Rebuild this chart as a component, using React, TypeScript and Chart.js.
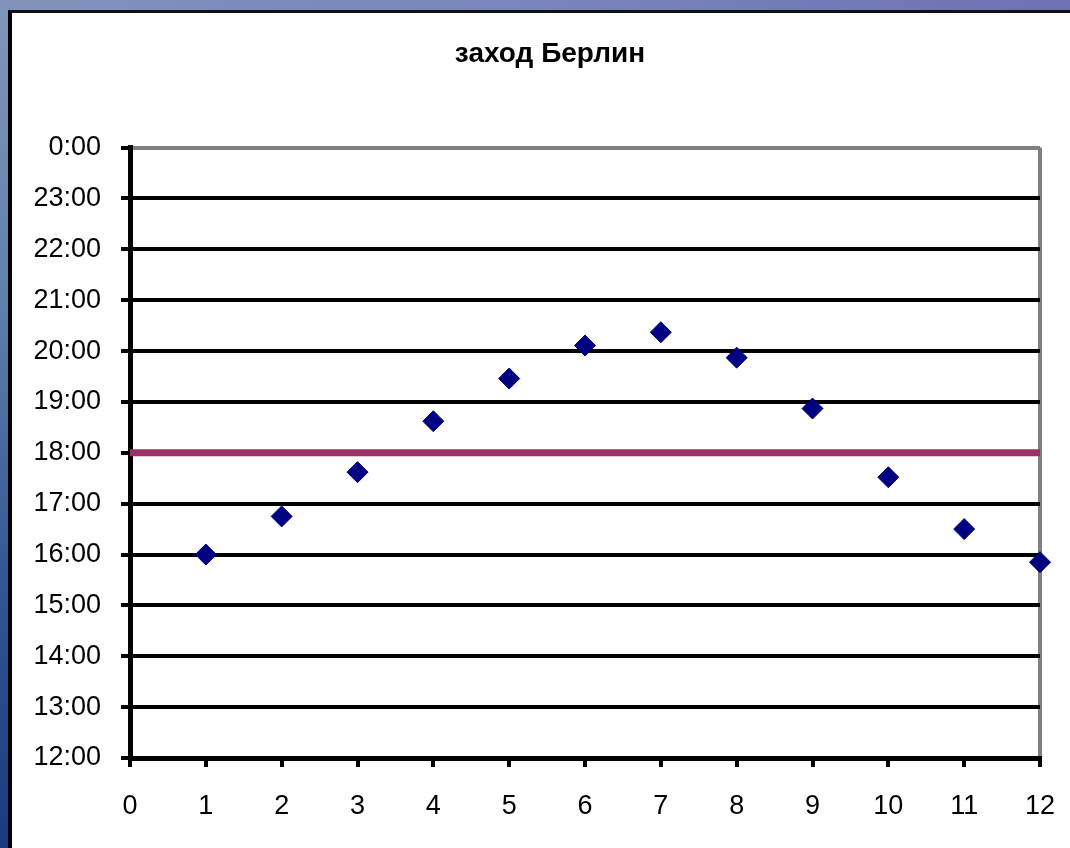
import React, { useEffect, useRef } from 'react';
import { Chart, registerables } from 'chart.js';

Chart.register(...registerables);

const chartTitle = 'заход Берлин';
const months = [1, 2, 3, 4, 5, 6, 7, 8, 9, 10, 11, 12];
const sunsetHours = [16.0, 16.75, 17.62, 18.62, 19.46, 20.11, 20.37, 19.87, 18.87, 17.52, 16.5, 15.85];
const referenceX = [0, 12];
const referenceHour = [18, 18];
const xRange = [0, 12];
const yRange = [12, 24];

const FONT = "'Liberation Sans', Arial, sans-serif";

export default function App() {
  const ref = useRef<HTMLCanvasElement | null>(null);

  useEffect(() => {
    if (!ref.current) return;
    const chart = new Chart(ref.current, {
      type: 'scatter',
      data: {
        datasets: [
          {
            type: 'line',
            label: '18:00',
            data: referenceX.map((x, i) => ({ x, y: referenceHour[i] })),
            borderColor: '#993366',
            borderWidth: 7,
            pointRadius: 0,
            fill: false,
            clip: false,
            order: 2,
          } as any,
          {
            label: chartTitle,
            data: months.map((m, i) => ({ x: m, y: sunsetHours[i] })),
            pointStyle: 'rectRot',
            pointRadius: 10.5,
            backgroundColor: '#000080',
            borderColor: '#000080',
            borderWidth: 1,
            clip: false,
            order: 1,
          },
        ],
      },
      options: {
        responsive: false,
        maintainAspectRatio: false,
        animation: false,
        layout: { padding: { left: 18, right: 0, top: 0, bottom: 0 } },
        plugins: {
          legend: { display: false },
          tooltip: { enabled: false },
          title: {
            display: true,
            text: chartTitle,
            color: '#000',
            font: { family: FONT, size: 28, weight: 'bold' },
            padding: { top: 24, bottom: 77 },
          },
        },
        scales: {
          x: {
            type: 'linear',
            min: xRange[0],
            max: xRange[1],
            afterFit: (s: any) => {
              s.height = 90;
              s.paddingLeft = 0;
              s.paddingRight = 0;
            },
            ticks: {
              stepSize: 1,
              color: '#000',
              padding: 23,
              font: { family: FONT, size: 27 },
            },
            grid: {
              color: (c: any) => (c.tick && c.tick.value === xRange[1] ? '#808080' : 'rgba(0,0,0,0)'),
              tickColor: '#000',
              lineWidth: 4,
              tickWidth: 4,
              tickLength: 9,
            },
            border: { display: true, color: '#000', width: 5 },
          },
          y: {
            type: 'linear',
            min: yRange[0],
            max: yRange[1],
            afterFit: (s: any) => { s.width = 100; },
            ticks: {
              stepSize: 1,
              color: '#000',
              padding: 20,
              font: { family: FONT, size: 27 },
              callback: (v: any) => `${Number(v) % 24}:00`,
            },
            grid: {
              color: (c: any) => (c.tick && c.tick.value === yRange[1] ? '#808080' : '#000'),
              tickColor: '#000',
              lineWidth: 4,
              tickWidth: 4,
              tickLength: 9,
            },
            border: { display: true, color: '#000', width: 5 },
          },
          yRightSpace: {
            type: 'linear',
            position: 'right',
            min: 0,
            max: 1,
            display: true,
            afterFit: (s: any) => { s.width = 30; },
            ticks: { display: false },
            grid: { display: false },
            border: { display: false },
          },
        },
      } as any,
    });
    return () => chart.destroy();
  }, []);

  return (
    <div
      style={{
        position: 'fixed',
        left: 0,
        top: 0,
        width: 1070,
        height: 848,
        overflow: 'hidden',
        background: 'linear-gradient(to bottom, #8096bb 0%, #5f80ad 35%, #2f5592 70%, #1a3b7c 100%)',
      }}
    >
      <div
        style={{
          position: 'absolute',
          left: 0,
          top: 0,
          width: 1070,
          height: 10,
          background: 'linear-gradient(to right, #7f93bb 0%, #7a85bb 50%, #6d72b2 100%)',
        }}
      />
      <div
        style={{
          position: 'absolute',
          left: 8,
          top: 10,
          width: 1062,
          height: 838,
          boxSizing: 'border-box',
          borderLeft: '4px solid #000',
          borderTop: '3px solid #111',
          background: '#fff',
        }}
      >
        <canvas ref={ref} width={1058} height={835} style={{ display: 'block' }} />
      </div>
    </div>
  );
}
